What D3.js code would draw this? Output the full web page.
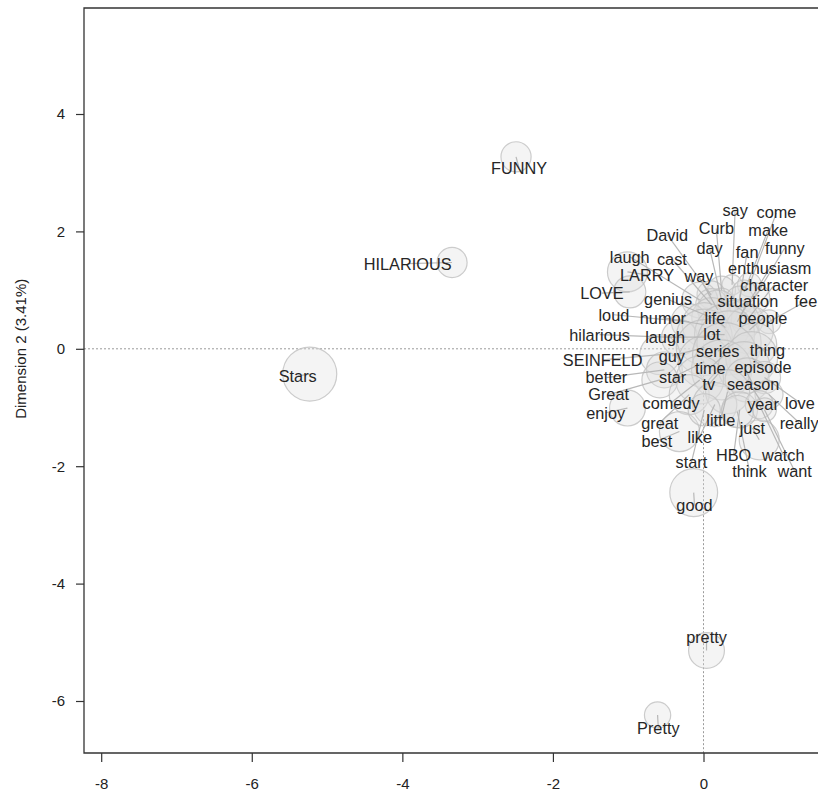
<!DOCTYPE html>
<html>
<head>
<meta charset="utf-8">
<script src="https://cdn.jsdelivr.net/npm/d3@7"></script>
<style>
  html, body { margin: 0; padding: 0; background: #fff; }
  svg { display: block; }
  text { font-family: "Liberation Sans", Arial, Helvetica, sans-serif; }
</style>
</head>
<body>
<svg id="chart" width="818" height="793"></svg>
<script>
// Correspondence analysis map: word coordinates on dimensions 1 and 2,
// circle area from word frequency, labels placed away from crowded points.
const words = ["FUNNY","HILARIOUS","Stars","good","pretty","Pretty",
  "say","come","Curb","make","David","day","fan","funny","laugh","cast","LARRY","way",
  "enthusiasm","character","LOVE","genius","situation","fee","loud","humor","life","people",
  "hilarious","laugh","lot","SEINFELD","guy","series","thing","better","star","time","episode",
  "Great","tv","season","comedy","year","love","enjoy","great","little","just","really",
  "best","like","HBO","watch","start","think","want"];

const dim1 = [-2.49,-3.34,-5.23,-0.13,0.04,-0.61,
  0.38,0.61,0.24,0.54,0.10,0.24,0.48,0.68,-0.05,0.11,-1.01,0.19,
  0.50,0.58,-0.98,0.11,0.45,0.87,-0.19,0.01,0.29,0.61,
  -0.32,0.01,0.28,-0.58,0.01,0.34,0.68,-0.52,0.01,0.28,0.64,
  -0.58,0.24,0.54,-0.05,0.58,0.81,-1.01,-0.19,0.32,0.74,0.87,
  -0.32,0.15,0.48,0.74,0.01,0.45,0.81];

const dim2 = [3.27,1.47,-0.43,-2.45,-5.14,-6.24,
  1.09,1.09,1.00,0.97,0.92,0.83,0.83,0.87,0.83,0.75,1.31,0.66,
  0.58,0.49,0.97,0.53,0.46,0.46,0.46,0.41,0.36,0.32,
  0.19,0.20,0.24,-0.10,0.02,0.10,0.07,-0.36,-0.22,-0.10,-0.15,
  -0.53,-0.36,-0.32,-0.53,-0.53,-0.49,-1.01,-0.78,-0.73,-1.55,-0.78,
  -1.41,-0.95,-1.04,-0.95,-1.04,-1.07,-1.04];

const freq = [29,29,93,73,41,22,
  13,18,25,18,25,18,25,29,41,33,51,51,
  25,33,33,51,62,18,41,62,73,73,
  41,100,115,51,100,131,62,41,86,131,86,
  41,115,86,73,62,33,41,51,62,51,25,
  51,62,41,25,33,33,18];

// Repelled label anchors, in the same dimension units
const labelX = [-2.45,-3.93,-5.39,-0.12,0.04,-0.60,
  0.42,0.97,0.17,0.86,-0.48,0.08,0.58,1.08,-0.98,-0.42,-0.75,-0.06,
  0.88,0.94,-1.35,-0.47,0.59,1.36,-1.19,-0.54,0.15,0.79,
  -1.38,-0.51,0.11,-1.34,-0.42,0.19,0.85,-1.29,-0.41,0.09,0.79,
  -1.26,0.07,0.66,-0.43,0.79,1.28,-1.30,-0.58,0.23,0.65,1.27,
  -0.62,-0.05,0.40,1.06,-0.16,0.61,1.21];

const labelY = [3.08,1.45,-0.46,-2.67,-4.91,-6.47,
  2.37,2.32,2.05,2.03,1.94,1.72,1.65,1.72,1.57,1.53,1.26,1.23,
  1.37,1.09,0.95,0.84,0.81,0.81,0.58,0.53,0.52,0.52,
  0.24,0.20,0.245,-0.19,-0.12,-0.04,-0.03,-0.49,-0.49,-0.325,-0.32,
  -0.78,-0.61,-0.61,-0.92,-0.95,-0.92,-1.09,-1.26,-1.21,-1.35,-1.26,
  -1.57,-1.50,-1.81,-1.81,-1.93,-2.08,-2.08];

const xTicks = [-8,-6,-4,-2,0];
const yTicks = [4,2,0,-2,-4,-6];
const yTitle = "Dimension 2 (3.41%)";

const svg = d3.select("#chart");
const frameLeft = 84, frameTop = 8, frameBottom = 753, frameRight = 860;

const x = d3.scaleLinear().domain([-8, 0]).range([101.2, 703.5]);
const y = d3.scaleLinear().domain([4, -6]).range([114, 701]);
const r = d3.scaleSqrt().domain([0, 100]).range([0, 28]);

const rows = words.map((w, i) => ({
  word: w, x: dim1[i], y: dim2[i], f: freq[i], lx: labelX[i], ly: labelY[i]
}));

svg.append("clipPath").attr("id", "plotclip")
  .append("rect").attr("x", frameLeft).attr("y", frameTop)
  .attr("width", frameRight - frameLeft).attr("height", frameBottom - frameTop);

const plot = svg.append("g").attr("clip-path", "url(#plotclip)");

// origin reference lines
plot.append("line")
  .attr("x1", frameLeft).attr("x2", frameRight).attr("y1", y(0)).attr("y2", y(0))
  .attr("stroke", "#9a9a9a").attr("stroke-width", 1).attr("stroke-dasharray", "2,2");
plot.append("line")
  .attr("x1", x(0)).attr("x2", x(0)).attr("y1", y(0.3)).attr("y2", frameBottom)
  .attr("stroke", "#9a9a9a").attr("stroke-width", 1).attr("stroke-dasharray", "2,2");

// frequency bubbles
plot.selectAll("circle.pt").data(rows).join("circle")
  .attr("class", "pt")
  .attr("cx", d => x(d.x)).attr("cy", d => y(d.y)).attr("r", d => r(d.f))
  .attr("fill", "rgb(222,222,222)").attr("fill-opacity", 0.33)
  .attr("stroke", "rgb(195,195,195)").attr("stroke-opacity", 0.85).attr("stroke-width", 1.2);

// leader segments from label to point
plot.selectAll("line.seg").data(rows).join("line")
  .attr("class", "seg")
  .attr("x1", d => x(d.lx)).attr("y1", d => y(d.ly))
  .attr("x2", d => x(d.x)).attr("y2", d => y(d.y))
  .attr("stroke", "#b8b8b8").attr("stroke-width", 1.2);

// word labels
plot.selectAll("text.lab").data(rows).join("text")
  .attr("class", "lab")
  .attr("x", d => x(d.lx)).attr("y", d => y(d.ly))
  .attr("dy", "0.36em").attr("text-anchor", "middle")
  .attr("font-size", 16.3).attr("fill", "#262626")
  .text(d => d.word);

// plot frame
svg.append("path")
  .attr("d", `M${frameRight},${frameTop}H${frameLeft}V${frameBottom}H${frameRight}`)
  .attr("fill", "none").attr("stroke", "#333").attr("stroke-width", 1.3);

const plainNumber = d => String(d);

// x axis
const xAxis = svg.append("g").attr("transform", `translate(0,${frameBottom})`)
  .call(d3.axisBottom(x).tickValues(xTicks).tickSize(9).tickPadding(16).tickFormat(plainNumber));
xAxis.select(".domain").remove();
xAxis.selectAll("line").attr("stroke", "#333").attr("stroke-width", 1.2);
xAxis.selectAll("text").attr("font-size", 15).attr("fill", "#222")
  .style("font-family", "'Liberation Sans', Arial, sans-serif");

// y axis
const yAxis = svg.append("g").attr("transform", `translate(${frameLeft},0)`)
  .call(d3.axisLeft(y).tickValues(yTicks).tickSize(8).tickPadding(11).tickFormat(plainNumber));
yAxis.select(".domain").remove();
yAxis.selectAll("line").attr("stroke", "#333").attr("stroke-width", 1.2);
yAxis.selectAll("text").attr("font-size", 15).attr("fill", "#222")
  .style("font-family", "'Liberation Sans', Arial, sans-serif");

svg.append("text")
  .attr("transform", `translate(21,${y(0)}) rotate(-90)`)
  .attr("text-anchor", "middle").attr("dy", "0.35em")
  .attr("font-size", 15).attr("fill", "#222")
  .text(yTitle);
</script>
</body>
</html>
